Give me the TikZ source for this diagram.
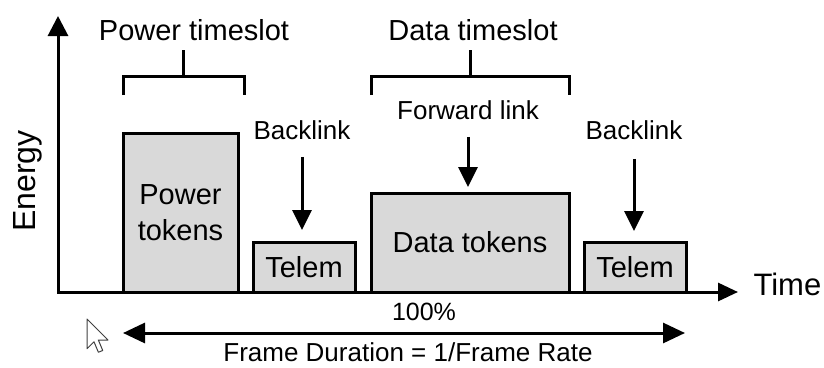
\documentclass[tikz,border=0pt]{standalone}
\usepackage{fontspec}
\setmainfont{Liberation Sans}
\usetikzlibrary{arrows.meta}
\definecolor{tokengray}{HTML}{D9D9D9}

\begin{document}
\begin{tikzpicture}[x=1pt, y=-1pt, line width=3pt,
    token/.style={draw, fill=tokengray, anchor=south west, inner sep=0pt, outer sep=0pt,
      align=center, font=\fontsize{29}{36}\selectfont},
    lbl/.style={anchor=base, inner sep=0pt, font=\fontsize{26}{30}\selectfont},
    slot/.style={anchor=base, inner sep=0pt, font=\fontsize{29}{34}\selectfont},
    arr/.style={-{Triangle[length=20pt,width=19pt]}},
    axisline/.style={{Triangle[length=20pt,width=20pt]}-{Triangle[length=20pt,width=18pt]}}]
  \useasboundingbox (0,0) rectangle (824,367);

  % axes
  \coordinate (ytip) at (58,16);
  \coordinate (xtip) at (738,292);
  \draw[axisline] (ytip) |- (xtip);
  \node[rotate=90, anchor=base, inner sep=0pt, font=\fontsize{32}{36}\selectfont] (energy) at (35,181) {Energy};
  \node[anchor=base west, inner sep=0pt, font=\fontsize{31}{36}\selectfont] (time) at (752,295) {Time};

  % token boxes
  \node[token, minimum width=115pt, minimum height=159pt] (power) at (123,292) {Power\\tokens};
  \node[token, minimum width=102pt, minimum height=50pt] (tel1) at (253,292) {Telem};
  \node[token, minimum width=198pt, minimum height=99pt] (data) at (371,292) {Data tokens};
  \node[token, minimum width=102pt, minimum height=50pt] (tel2) at (584,292) {Telem};

  % timeslots
  \node[slot] (pslot) at (194,40) {Power timeslot};
  \node[slot] (dslot) at (473,40) {Data timeslot};
  \draw (123,95) |- (244,76) -- (244,95);
  \draw (183,76) -- (183,50);
  \draw (371,95) |- (569,76) -- (569,95);
  \draw (470,76) -- (470,50);

  % links
  \node[lbl] (back1) at (302,139) {Backlink};
  \node[lbl] (fwd) at (468,119) {Forward link};
  \node[lbl] (back2) at (634,139) {Backlink};
  \draw[arr, shorten <=16pt, shorten >=12pt] (back1.south) -- (back1.south |- tel1.north);
  \draw[arr, shorten <=16pt, shorten >=6pt] (fwd.south) -- (fwd.south |- data.north);
  \draw[arr, shorten <=18pt, shorten >=11pt] (back2.south) -- (back2.south |- tel2.north);

  % frame duration
  \coordinate (fstart) at (123,333);
  \coordinate (fend) at (685,333);
  \draw[{Triangle[length=22pt,width=20pt]}-{Triangle[length=22pt,width=20pt]}] (fstart) -- (fend);
  \node[lbl, font=\fontsize{25}{30}\selectfont] (pct) at (424,320) {100\%};
  \node[lbl] (frame) at (408,361) {Frame Duration = 1/Frame Rate};

  % mouse pointer
  \begin{scope}[shift={(87,319)}, scale=1.75]
    \draw[line width=1pt, draw=black!75, fill=white, line join=round]
      (0,0) -- (0,17) -- (4,13) -- (6.5,19) -- (9,18) -- (6.5,12) -- (12,12) -- cycle;
  \end{scope}
\end{tikzpicture}
\end{document}
